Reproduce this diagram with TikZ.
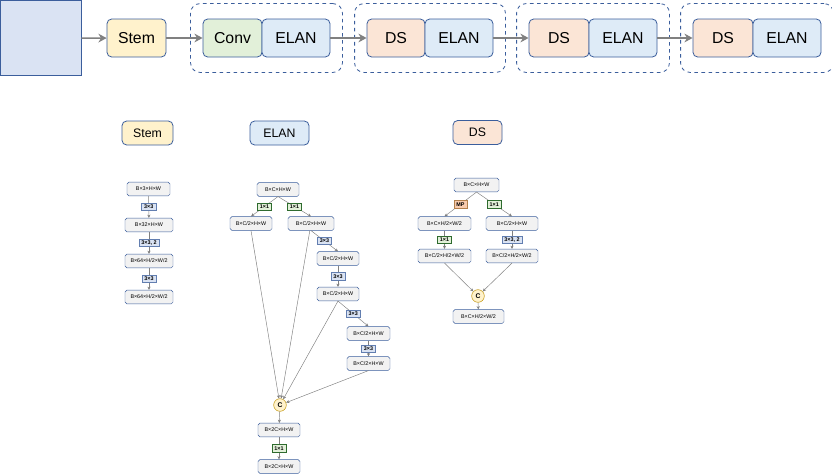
\documentclass[tikz,border=0pt]{standalone}
\usepackage{fontspec}
\setmainfont{Liberation Sans}
\usetikzlibrary{positioning, arrows.meta, fit}

\definecolor{edgeblue}{HTML}{3B5E9C}
\definecolor{imgfill}{HTML}{DAE3F3}
\definecolor{stemfill}{HTML}{FFF2CC}
\definecolor{convfill}{HTML}{E2F0D9}
\definecolor{elanfill}{HTML}{DEEBF7}
\definecolor{dsfill}{HTML}{FBE5D6}
\definecolor{mpfill}{HTML}{F8CBAD}
\definecolor{featfill}{HTML}{F2F2F2}
\definecolor{arrgray}{HTML}{808080}
\definecolor{catdraw}{HTML}{BF9000}

\begin{document}
\begin{tikzpicture}[
    x=0.03cm, y=-0.03cm,
    blk/.style={
        draw=edgeblue, rounded corners=4pt, minimum height=1.14cm,
        font=\fontsize{13.5}{16}\selectfont, line width=0.7pt, inner sep=0pt
    },
    title/.style={blk, minimum height=0.72cm, font=\fontsize{10.5}{12}\selectfont},
    grp/.style={draw=edgeblue, dashed, rounded corners=8pt, line width=0.7pt, inner xsep=0.36cm, inner ysep=0.45cm},
    feat/.style={
        draw=edgeblue, fill=featfill, rounded corners=1.5pt, minimum height=0.41cm,
        minimum width=1.3cm, font=\fontsize{4.6}{5}\selectfont, line width=0.4pt, inner sep=1pt
    },
    lbl/.style={draw=edgeblue!80, fill=imgfill, minimum height=0.22cm,
        font=\fontsize{4.6}{5}\selectfont\bfseries, inner xsep=2.2pt, inner ysep=0.8pt, line width=0.3pt},
    glbl/.style={lbl, fill=convfill, draw=gray!60!green!60!black},
    mlbl/.style={lbl, fill=mpfill, draw=gray!60!orange},
    cat/.style={circle, draw=catdraw, fill=stemfill, minimum size=0.38cm, inner sep=0pt,
        font=\fontsize{5.8}{6}\selectfont\bfseries, line width=0.4pt},
    arr/.style={-{Stealth[length=7pt,width=7.5pt]}, draw=arrgray, line width=1.2pt},
    sarr/.style={-{Stealth[length=2.8pt,width=2.6pt]}, draw=arrgray, line width=0.4pt},
]
\useasboundingbox (0,0) rectangle (832,474);

% Backbone
\node[draw=edgeblue, fill=imgfill, line width=0.7pt, minimum width=2.41cm, minimum height=2.26cm, inner sep=0pt] (img) at (40.8,38.2) {};
\node[blk, fill=stemfill, minimum width=1.77cm] (stem) at (136.5,38) {Stem};

\node[blk, fill=convfill, minimum width=1.77cm] (conv1) at (232.5,38) {Conv};
\node[blk, fill=elanfill, minimum width=2.04cm] (elan1) at (296,38) {ELAN};

\node[blk, fill=dsfill, minimum width=1.74cm] (ds2) at (396,38) {DS};
\node[blk, fill=elanfill, minimum width=2.04cm] (elan2) at (459,38) {ELAN};

\node[blk, fill=dsfill, minimum width=1.8cm] (ds3) at (559,38) {DS};
\node[blk, fill=elanfill, minimum width=2.04cm] (elan3) at (623,38) {ELAN};

\node[blk, fill=dsfill, minimum width=1.8cm] (ds4) at (723,38) {DS};
\node[blk, fill=elanfill, minimum width=2.04cm] (elan4) at (787,38) {ELAN};

% Stage groups
\node[grp, fit=(conv1)(elan1)] (g1) {};
\node[grp, fit=(ds2)(elan2)] (g2) {};
\node[grp, fit=(ds3)(elan3)] (g3) {};
\node[grp, fit=(ds4)(elan4)] (g4) {};

\draw[arr] (img) -- (stem);
\draw[arr] (stem) -- (conv1);
\draw[arr] (elan1) -- (ds2);
\draw[arr] (elan2) -- (ds3);
\draw[arr] (elan3) -- (ds4);

% Titles
\node[title, fill=stemfill, minimum width=1.53cm] (tstem) at (147.5,133) {Stem};
\node[title, fill=elanfill, minimum width=1.77cm] (telan) at (279.5,133) {ELAN};
\node[title, fill=dsfill, minimum width=1.47cm] (tds) at (477.5,132.5) {DS};

% Stem detail
\node[feat, minimum width=1.29cm] (sa) at (148.5,189) {B×3×H×W};
\node[feat, minimum width=1.44cm] (sb) at (149,225) {B×32×H×W};
\node[feat, minimum width=1.44cm] (sc) at (149,261) {B×64×H/2×W/2};
\node[feat, minimum width=1.44cm] (sd) at (149,297) {B×64×H/2×W/2};

\draw[sarr] (sa) -- node[lbl] {3×3} (sb);
\draw[sarr] (sb) -- node[lbl] {3×3, 2} (sc);
\draw[sarr] (sc) -- node[lbl] {3×3} (sd);

% ELAN detail
\node[feat, minimum width=1.26cm] (ea) at (278,189.5) {B×C×H×W};
\node[feat, minimum width=1.26cm] (el) at (251,223.5) {B×C/2×H×W};
\node[feat, minimum width=1.38cm] (er) at (311,223.5) {B×C/2×H×W};
\node[feat, minimum width=1.26cm] (er1) at (338,258.5) {B×C/2×H×W};
\node[feat, minimum width=1.26cm] (er2) at (338,294) {B×C/2×H×W};
\node[feat, minimum width=1.29cm] (er3) at (368.5,333.5) {B×C/2×H×W};
\node[feat, minimum width=1.29cm] (er4) at (368.5,363.5) {B×C/2×H×W};
\node[cat] (ecat) at (280,405) {C};
\node[feat, minimum width=1.26cm] (eo1) at (279,430) {B×2C×H×W};
\node[feat, minimum width=1.26cm] (eo2) at (279,466.5) {B×2C×H×W};

\draw[sarr] (ea.south) -- node[glbl] {1×1} (el.north);
\draw[sarr] (ea.south) -- node[glbl] {1×1} (er.north);
\draw[sarr] (er.south) -- node[lbl] {3×3} (er1.north);
\draw[sarr] (er1) -- node[lbl] {3×3} (er2);
\draw[sarr] (er2.south) -- node[lbl] {3×3} (er3.north);
\draw[sarr] (er3) -- node[lbl] {3×3} (er4);

\draw[sarr] (el.south) -- (ecat);
\draw[sarr] ([xshift=-1pt]er.south) -- (ecat);
\draw[sarr] (er2.south) -- (ecat);
\draw[sarr] (er4.south) -- (ecat);
\draw[sarr] (ecat) -- (eo1);
\draw[sarr] (eo1) -- node[glbl] {1×1} (eo2);

% DS detail
\node[feat, minimum width=1.35cm] (da) at (476.5,185) {B×C×H×W};
\node[feat, minimum width=1.59cm] (dl) at (444.5,223.5) {B×C×H/2×W/2};
\node[feat, minimum width=1.56cm] (dr) at (512,223.5) {B×C/2×H×W};
\node[feat, minimum width=1.59cm] (dbl) at (444.5,256) {B×C/2×H/2×W/2};
\node[feat, minimum width=1.56cm] (dbr) at (512,256) {B×C/2×H/2×W/2};
\node[cat] (dcat) at (478,296) {C};
\node[feat, minimum width=1.53cm] (dout) at (478.5,316.5) {B×C×H/2×W/2};

\draw[sarr] (da.south) -- node[mlbl] {MP} (dl.north);
\draw[sarr] (da.south) -- node[glbl] {1×1} (dr.north);
\draw[sarr] (dl) -- node[glbl] {1×1} (dbl);
\draw[sarr] (dr) -- node[lbl] {3×3, 2} (dbr);
\draw[sarr] (dbl.south) -- (dcat);
\draw[sarr] (dbr.south) -- (dcat);
\draw[sarr] (dcat) -- (dout);

\end{tikzpicture}
\end{document}
